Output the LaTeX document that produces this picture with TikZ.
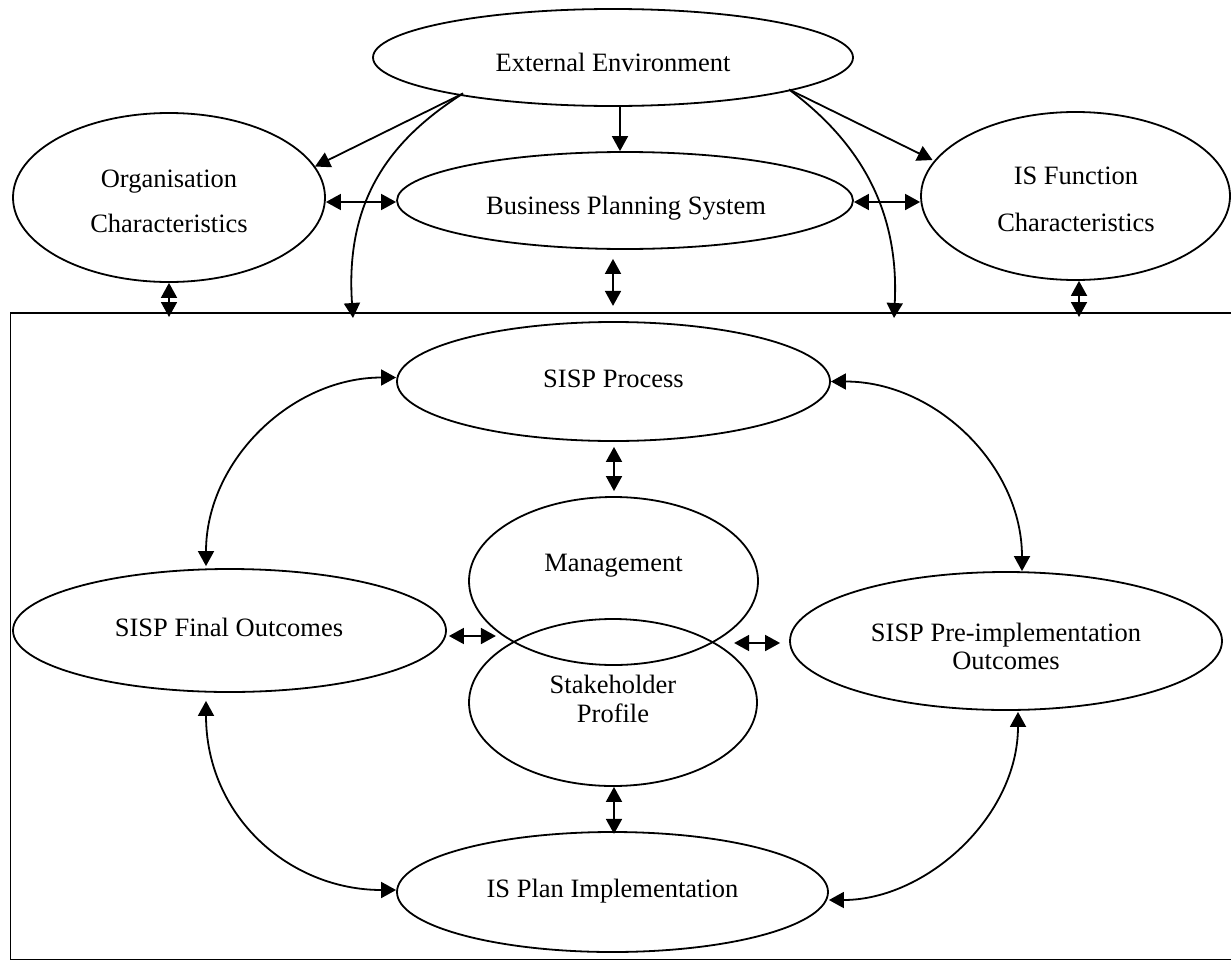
\documentclass[tikz,border=0pt]{standalone}
\usepackage{fontspec}
\setmainfont{Liberation Serif}
\usetikzlibrary{arrows.meta,shapes.geometric,calc}
\begin{document}
\begin{tikzpicture}[x=1pt,y=-1pt,
  ell/.style={draw, ellipse, line width=1.8pt, inner sep=0pt},
  lbl/.style={anchor=base, align=center, inner sep=0pt, font=\fontsize{26.5}{29}\selectfont},
  conn/.style={line width=1.8pt},
  tip/.style={-{Triangle[length=15pt,width=16pt]}},
  dbl/.style={{Triangle[length=15pt,width=16pt]}-{Triangle[length=15pt,width=16pt]}}
]
\useasboundingbox (0,0) rectangle (1231,961);

% frame
\coordinate (ftl) at (10.5,313);
\coordinate (fbr) at (1245,959.5);
\draw[line width=1.8pt] (ftl) rectangle (fbr);

% ellipses
\node[ell, minimum width=480pt, minimum height=97pt] (ext) at (613,57.5) {};
\node[ell, minimum width=312pt, minimum height=169pt] (org) at (169,197.5) {};
\node[ell, minimum width=456pt, minimum height=97pt] (bps) at (625,200.5) {};
\node[ell, minimum width=309pt, minimum height=168pt] (isf) at (1075.5,196) {};
\node[ell, minimum width=433pt, minimum height=119pt] (proc) at (613.5,381.5) {};
\node[ell, minimum width=289pt, minimum height=168pt] (mgmt) at (613.5,581) {};
\node[ell, minimum width=288pt, minimum height=167pt] (stake) at (613,702.5) {};
\node[ell, minimum width=433pt, minimum height=123pt] (final) at (229.5,630.5) {};
\node[ell, minimum width=432pt, minimum height=138pt] (pre) at (1006,641) {};
\node[ell, minimum width=431pt, minimum height=120pt] (plan) at (612.5,892) {};

% texts (multi-line: base = last line)
\node[lbl] (t-ext) at (613,71) {External Environment};
\node[lbl] (t-org) at (169,232) {Organisation\\[16pt]Characteristics};
\node[lbl] (t-bps) at (626,214) {Business Planning System};
\node[lbl] (t-isf) at (1076,231) {IS Function\\[18pt]Characteristics};
\node[lbl] (t-proc) at (613.5,387) {SISP Process};
\node[lbl] (t-mgmt) at (613.5,571) {Management};
\node[lbl] (t-stake) at (613,722) {Stakeholder\\Profile};
\node[lbl] (t-final) at (229,636) {SISP Final Outcomes};
\node[lbl] (t-pre) at (1006,669) {SISP Pre-implementation\\[-1pt]Outcomes};
\node[lbl] (t-plan) at (612.5,897) {IS Plan Implementation};

% helper coordinates
\coordinate (eL) at ($(ext.center)+(-150,36)$);
\coordinate (eR) at ($(ext.center)+(176,32)$);
\coordinate (fL) at ($(ftl)+(342.5,5)$);
\coordinate (fR) at ($(ftl)+(883.5,5)$);

% top connectors
\draw[conn,tip] (eL) -- ($(org.center)+(146,-31)$);
\draw[conn,tip] (eR) -- ($(isf.center)+(-143,-36)$);
\draw[conn,tip] (eL) .. controls +(-73,46.5) and +(-8,-118) .. (fL);
\draw[conn,tip] (eR) .. controls +(61,45.5) and +(6,-118) .. (fR);
\draw[conn,tip] ($(ext.south)+(7,0)$) -- ($(bps.north)+(-5,0)$);
\draw[conn,dbl] ($(org.east)+(0,4.5)$) -- ($(bps.west)+(0,1.5)$);
\draw[conn,dbl] ($(bps.east)+(0,1.5)$) -- ($(isf.west)+(0,6)$);
\draw[conn,dbl] ($(bps.south)+(-12,9)$) -- ($(bps.south)+(-12,56)$);
\draw[conn,dbl] (org.south) -- ($(org.south |- ftl)+(0,4)$);
\draw[conn,dbl] ($(isf.south)+(3.5,0)$) -- ($(isf.south |- ftl)+(3.5,4)$);

% inner connectors
\draw[conn,dbl] ($(proc.south)+(0.5,5)$) -- ($(mgmt.north)+(0.5,-5)$);
\draw[conn,dbl] ($(stake.south)+(1,0)$) -- ($(stake.south)+(1,47)$);
\draw[conn,dbl] ($(final.east)+(2,5.5)$) -- ($(final.east)+(49,5.5)$);
\draw[conn,dbl] ($(pre.west)+(-55,2)$) -- ($(pre.west)+(-9,2)$);

\draw[conn,dbl] ($(proc.west)+(0,-4)$) .. controls +(-105,0) and +(0,-105) .. ($(final.north)+(-23.5,-2)$);
\draw[conn,dbl] ($(proc.east)+(0,0)$) .. controls +(105,0) and +(0,-105) .. ($(pre.north)+(16,0)$);
\draw[conn,dbl] ($(final.south)+(-23.5,8)$) .. controls +(0,115) and +(-107,0) .. ($(plan.west)+(0,-2)$);
\draw[conn,dbl] ($(pre.south)+(12,1)$) .. controls +(0,105) and +(97,0) .. ($(plan.east)+(0,8)$);
\end{tikzpicture}
\end{document}
